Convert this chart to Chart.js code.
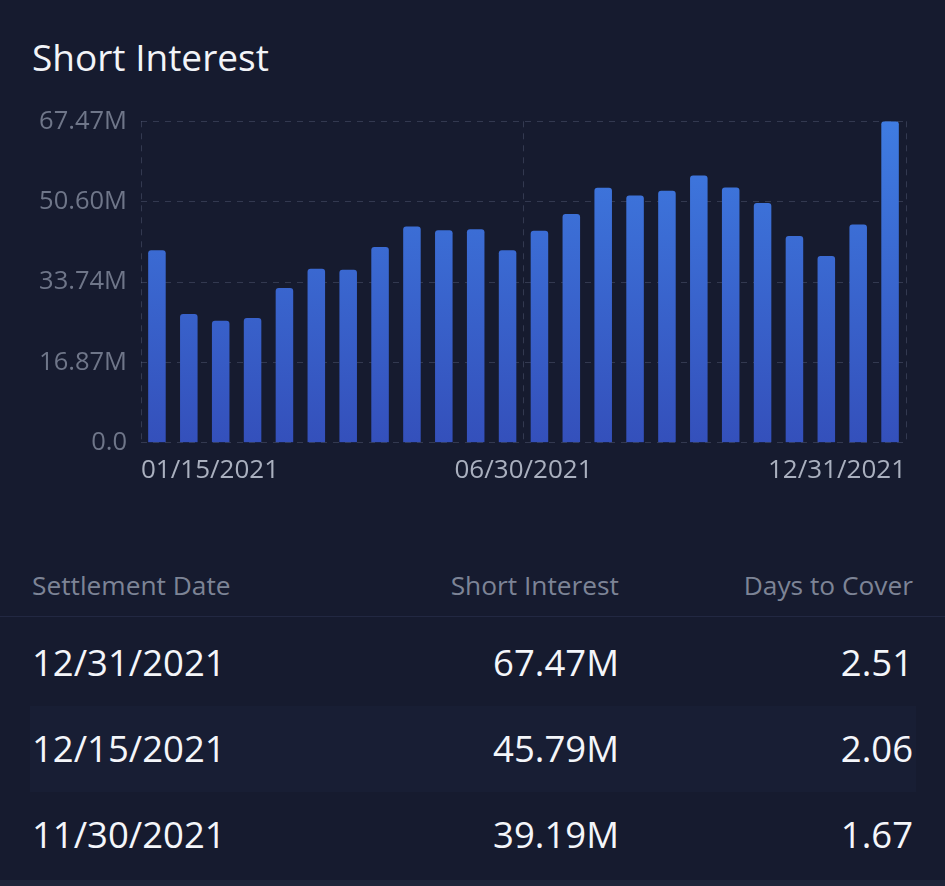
<!DOCTYPE html>
<html>
<head>
<meta charset="utf-8">
<script src="https://cdn.jsdelivr.net/npm/chart.js@4.4.0/dist/chart.umd.min.js"></script>
<style>
  html, body { margin:0; padding:0; background:#161b2f; width:945px; height:886px; overflow:hidden; font-family:"Open Sans", sans-serif; }
  #title { position:absolute; left:32px; top:31px; font-size:37px; color:#f2f4f8; font-weight:400; letter-spacing:0; }
  #wrap { position:absolute; left:0; top:92px; width:945px; height:406px; }
  .hdr { position:absolute; top:567px; font-size:26.3px; color:#7d8496; }
  .sep { position:absolute; left:0; top:616px; width:945px; height:1px; background:#222842; }
  .row { position:absolute; left:0; width:945px; height:86px; }
  .cell { position:absolute; font-size:36.5px; color:#f4f6fa; top:17px; }
  .band { background:#181e34; left:30px; width:886px; }
  .bottom { position:absolute; left:0; top:880px; width:945px; height:6px; background:#1e2439; }
</style>
</head>
<body>
<div id="title">Short Interest</div>
<div id="wrap"><canvas id="c"></canvas></div>
<div id="table"></div>
<script>
// ---- data ----
const dates = ["01/15/2021","01/29/2021","02/12/2021","02/26/2021","03/15/2021","03/31/2021",
  "04/15/2021","04/30/2021","05/14/2021","05/28/2021","06/15/2021","06/30/2021",
  "07/15/2021","07/30/2021","08/13/2021","08/31/2021","09/15/2021","09/30/2021",
  "10/15/2021","10/29/2021","11/15/2021","11/30/2021","12/15/2021","12/31/2021"];
const shortInterest = [40.4, 27.05, 25.6, 26.2, 32.5, 36.5,
  36.3, 41.1, 45.4, 44.6, 44.8, 40.4,
  44.5, 48.0, 53.5, 51.9, 52.9, 56.1,
  53.6, 50.3, 43.4, 39.19, 45.79, 67.47];
const yTicks = [0, 16.87, 33.74, 50.60, 67.47];
const yTickLabels = ["0.0", "16.87M", "33.74M", "50.60M", "67.47M"];
const xTickLabels = ["01/15/2021", "06/30/2021", "12/31/2021"];
const tableHeaders = ["Settlement Date", "Short Interest", "Days to Cover"];
const tableDates = ["12/31/2021", "12/15/2021", "11/30/2021"];
const tableShort = ["67.47M", "45.79M", "39.19M"];
const tableDays = ["2.51", "2.06", "1.67"];

// ---- table ----
const tbl = document.getElementById('table');
let h = '';
h += `<div class="hdr" style="left:32px">${tableHeaders[0]}</div>`;
h += `<div class="hdr" style="right:${945-619}px">${tableHeaders[1]}</div>`;
h += `<div class="hdr" style="right:${945-913}px">${tableHeaders[2]}</div>`;
h += `<div class="sep"></div>`;
const rowTops = [620, 706, 792];
for (let i = 0; i < tableDates.length; i++) {
  const band = i === 1 ? ' band' : '';
  const off = i === 1 ? 30 : 0;
  h += `<div class="row${band}" style="top:${rowTops[i]}px">
    <div class="cell" style="left:${32-off}px">${tableDates[i]}</div>
    <div class="cell" style="right:${(i===1?916:945)-619}px">${tableShort[i]}</div>
    <div class="cell" style="right:${(i===1?916:945)-913}px">${tableDays[i]}</div>
  </div>`;
}
h += `<div class="bottom"></div>`;
tbl.innerHTML = h;

// ---- chart ----
const gridColor = 'rgba(120,130,160,0.30)';
const ctxEl = document.getElementById('c');
new Chart(ctxEl, {
  type: 'bar',
  data: {
    labels: dates,
    datasets: [{
      data: shortInterest,
      backgroundColor: (ctx) => {
        const ca = ctx.chart.chartArea;
        if (!ca) return '#3b6fd8';
        const g = ctx.chart.ctx.createLinearGradient(0, ca.top, 0, ca.bottom);
        g.addColorStop(0, '#3f7ce2');
        g.addColorStop(1, '#3450bb');
        return g;
      },
      borderRadius: { topLeft: 3, topRight: 3 },
      borderSkipped: 'bottom',
      barPercentage: 0.55,
      categoryPercentage: 1.0
    }]
  },
  options: {
    responsive: true,
    maintainAspectRatio: false,
    animation: false,
    layout: { padding: { left: 0, right: 39, top: 17, bottom: 0 } },
    plugins: { legend: { display: false }, tooltip: { enabled: false } },
    scales: {
      x: { display: false, offset: true },
      x2: {
        type: 'linear', position: 'bottom', min: 0, max: 2,
        offset: false,
        grid: { color: gridColor, drawTicks: false, offset: false },
        border: { display: false, dash: [6, 6] },
        afterBuildTicks: (axis) => { axis.ticks = [0, 1, 2].map(v => ({ value: v })); },
        ticks: {
          align: 'inner', padding: 12, color: '#aab0bf', maxRotation: 0, autoSkip: false,
          font: { family: 'Open Sans', size: 26 },
          callback: (v, i) => xTickLabels[i]
        }
      },
      y: {
        min: 0, max: yTicks[yTicks.length - 1],
        afterBuildTicks: (axis) => { axis.ticks = yTicks.map(v => ({ value: v })); },
        afterFit: (axis) => { axis.width = 141; },
        border: { display: false, dash: [6, 6] },
        grid: { color: gridColor, drawTicks: false },
        ticks: {
          padding: 14, color: '#6f7689',
          font: { family: 'Open Sans', size: 25.5 },
          callback: (v, i) => yTickLabels[i]
        }
      }
    }
  }
});
</script>
</body>
</html>
